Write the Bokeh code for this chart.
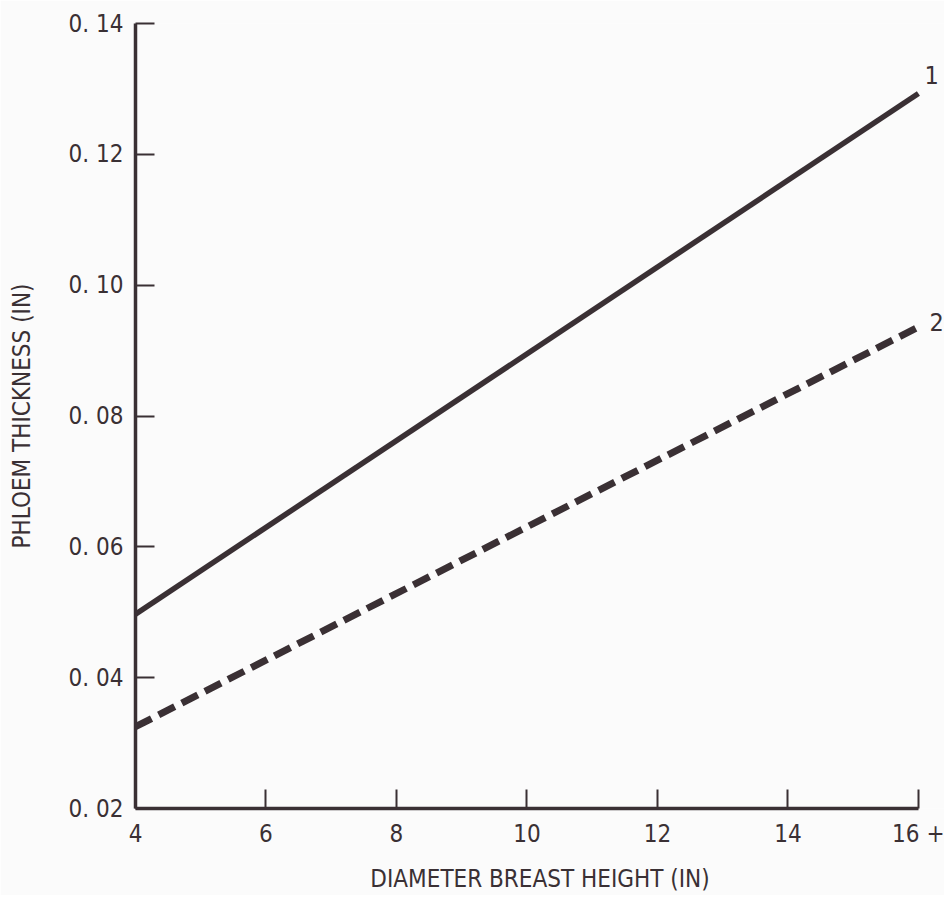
from bokeh.plotting import figure
from bokeh.models import Range1d, FixedTicker
from bokeh.core.properties import value
from bokeh.embed import file_html
from bokeh.resources import INLINE

# ---- data ----
dbh = [4, 16]
line1_phloem = [0.0497, 0.1293]   # curve 1 (solid)
line2_phloem = [0.0325, 0.0936]   # curve 2 (dashed)
curve_names = ["1", "2"]

x_ticks = [4, 6, 8, 10, 12, 14, 16]
x_tick_labels = ["4", "6", "8", "10", "12", "14", "16 +"]
y_ticks = [0.02, 0.04, 0.06, 0.08, 0.10, 0.12, 0.14]
y_tick_labels = ["0. 02", "0. 04", "0. 06", "0. 08", "0. 10", "0. 12", "0. 14"]

x_title = "DIAMETER BREAST HEIGHT (IN)"
y_title = "PHLOEM THICKNESS (IN)"

INK = "#3a3034"
BG = "#fbfbfb"
FONT = "Liberation Sans Narrow, DejaVu Sans Condensed, sans-serif"

p = figure(width=944, height=895, output_backend="svg", toolbar_location=None,
           x_range=Range1d(4, 16.4), y_range=Range1d(0.02, 0.14),
           min_border_left=135, min_border_right=0,
           min_border_top=23, min_border_bottom=85)
p.background_fill_color = BG
p.border_fill_color = BG
p.outline_line_color = None
p.grid.visible = False

p.line(dbh, line1_phloem, line_color=INK, line_width=5.5)
p.line(dbh, line2_phloem, line_color=INK, line_width=7, line_dash="18 8")

# curve numbers at the right ends of the curves
p.text(x=[dbh[-1]], y=[line1_phloem[-1]], text=[curve_names[0]],
       x_offset=6, y_offset=-18, text_baseline="middle",
       text_font=value(FONT), text_font_size="25px", text_color=INK)
p.text(x=[dbh[-1]], y=[line2_phloem[-1]], text=[curve_names[1]],
       x_offset=11, y_offset=-5, text_baseline="middle",
       text_font=value(FONT), text_font_size="25px", text_color=INK)

xa = p.xaxis[0]
xa.ticker = FixedTicker(ticks=x_ticks)
xa.bounds = (dbh[0], dbh[-1])
xa.major_label_overrides = {t: l for t, l in zip(x_ticks, x_tick_labels)}
xa.axis_label = x_title
ya = p.yaxis[0]
ya.ticker = FixedTicker(ticks=y_ticks)
ya.major_label_overrides = {t: l for t, l in zip(y_ticks, y_tick_labels)}
ya.axis_label = y_title

for ax in (xa, ya):
    ax.axis_line_color = INK
    ax.axis_line_width = 3.5
    ax.major_tick_line_color = INK
    ax.major_tick_line_width = 2
    ax.major_tick_in = 19
    ax.major_tick_out = 0
    ax.minor_tick_line_color = None
    ax.major_label_text_font = FONT
    ax.major_label_text_font_size = "24px"
    ax.major_label_text_color = INK
    ax.axis_label_text_font = FONT
    ax.axis_label_text_font_size = "24px"
    ax.axis_label_text_font_style = "normal"
    ax.axis_label_text_color = INK

xa.major_label_standoff = 11
xa.axis_label_standoff = 14
ya.major_label_standoff = 12
ya.axis_label_standoff = 30

open("out.html", "w").write(file_html(p, INLINE))
